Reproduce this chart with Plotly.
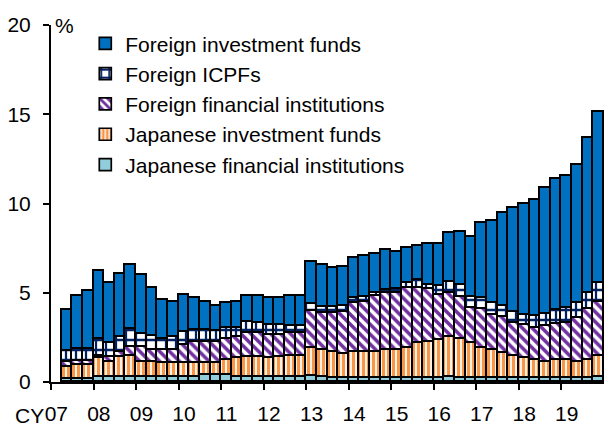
import plotly.graph_objects as go

# Quarterly observations, CY2007 Q2 .. CY2019 Q4 (share, %)
quarters = [f"{y}Q{q}" for y in range(2007, 2020) for q in range(1, 5)][1:]

jp_fin_inst = [0.15, 0.15, 0.15, 0.30, 0.30, 0.30, 0.30, 0.30, 0.30, 0.30, 0.30, 0.30,
               0.30, 0.39, 0.39, 0.39, 0.26, 0.26, 0.26, 0.26, 0.26, 0.26, 0.26, 0.34,
               0.26, 0.20, 0.20, 0.20, 0.20, 0.20, 0.20, 0.20, 0.20, 0.20, 0.20, 0.20,
               0.30, 0.20, 0.20, 0.20, 0.20, 0.20, 0.20, 0.20, 0.20, 0.25, 0.20, 0.20,
               0.20, 0.20, 0.30]
jp_inv_funds = [0.71, 0.80, 0.80, 1.03, 0.84, 1.12, 1.16, 0.84, 0.84, 0.75, 0.75, 0.75,
                0.78, 0.66, 0.66, 0.84, 1.07, 1.16, 1.16, 1.07, 1.16, 1.20, 1.20, 1.58,
                1.53, 1.50, 1.37, 1.50, 1.50, 1.50, 1.59, 1.59, 1.69, 1.97, 2.06, 2.15,
                2.20, 2.20, 1.97, 1.70, 1.59, 1.45, 1.24, 1.13, 1.03, 0.85, 1.03, 1.02,
                0.90, 1.05, 1.18]
fr_fin_inst = [0.28, 0.23, 0.23, 0.13, 0.28, 0.28, 0.52, 0.84, 0.65, 0.74, 0.74, 1.02,
               1.18, 1.21, 1.21, 1.16, 1.17, 1.31, 1.31, 1.30, 1.21, 1.27, 1.27, 2.06,
               2.06, 2.15, 2.37, 2.71, 2.80, 3.12, 3.18, 3.18, 3.36, 3.08, 2.93, 2.52,
               2.50, 2.35, 1.96, 2.18, 1.99, 2.01, 1.86, 1.86, 1.80, 2.02, 2.02, 2.08,
               2.50, 2.85, 3.02]
fr_icpfs = [0.60, 0.65, 0.67, 0.93, 0.75, 0.80, 0.99, 0.72, 0.76, 0.60, 0.71, 0.75,
            0.65, 0.65, 0.60, 0.61, 0.50, 0.65, 0.56, 0.56, 0.56, 0.41, 0.41, 0.39,
            0.37, 0.37, 0.32, 0.28, 0.28, 0.15, 0.18, 0.22, 0.28, 0.46, 0.26, 0.53,
            0.62, 0.68, 0.61, 0.64, 0.63, 0.58, 0.64, 0.59, 0.66, 0.68, 0.78, 0.85,
            0.81, 0.87, 1.03]
fr_inv_funds = [2.29, 3.00, 3.23, 3.85, 3.39, 3.53, 3.60, 3.31, 2.73, 2.20, 2.00, 2.04,
                1.81, 1.59, 1.40, 1.41, 1.50, 1.46, 1.55, 1.53, 1.53, 1.70, 1.70, 2.37,
                2.33, 2.15, 2.20, 2.24, 2.28, 2.18, 2.24, 2.07, 1.96, 1.93, 2.26, 2.31,
                2.75, 2.99, 3.36, 4.21, 4.63, 5.25, 5.79, 6.17, 6.51, 7.09, 7.32, 7.41,
                7.75, 8.68, 9.61]

year_labels = ["07", "08", "09", "10", "11", "12", "13", "14", "15", "16", "17", "18", "19"]

# position index: 2007Q1 slot is empty (index 0); data starts at index 1
x_pos = list(range(1, len(quarters) + 1))
label_pos = [4 * k for k in range(len(year_labels))]
tick_pos = [4 * k - 0.5 for k in range(len(year_labels))]

FONT = "Arial, Liberation Sans, sans-serif"
line = dict(color="black", width=1.7)

series = [
    ("Japanese financial institutions", jp_fin_inst,
     dict(color="#92CDDC", line=line)),
    ("Japanese investment funds", jp_inv_funds,
     dict(color="#F79646", line=line,
          pattern=dict(shape="|", fgcolor="#F79646", bgcolor="white",
                       size=5, solidity=0.65, fgopacity=1))),
    ("Foreign financial institutions", fr_fin_inst,
     dict(color="#7030A0", line=line,
          pattern=dict(shape="\\", fgcolor="#7030A0", bgcolor="white",
                       size=7, solidity=0.5, fgopacity=1))),
    ("Foreign ICPFs", fr_icpfs,
     dict(color="#002060", line=line,
          pattern=dict(shape="+", fgcolor="#002060", bgcolor="white",
                       size=10, solidity=0.4, fgopacity=1))),
    ("Foreign investment funds", fr_inv_funds,
     dict(color="#0070C0", line=line)),
]

fig = go.Figure()
for name, vals, marker in series:
    fig.add_trace(go.Bar(x=x_pos, y=vals, name=name, marker=marker, width=1.0))

fig.update_layout(
    width=604, height=428,
    margin=dict(l=51, r=0, t=25, b=46),
    barmode="stack", bargap=0,
    paper_bgcolor="white", plot_bgcolor="white",
    font=dict(family=FONT, size=21, color="black"),
    legend=dict(
        x=0.062, y=1.005, xanchor="left", yanchor="top",
        traceorder="reversed", bgcolor="rgba(0,0,0,0)",
        font=dict(family=FONT, size=21, color="black"),
    ),
    showlegend=True,
)

fig.update_xaxes(
    range=[-0.5, 51.5],
    tickmode="array", tickvals=label_pos, ticktext=year_labels,
    ticks="", ticklabelstandoff=12,
    showline=True, linecolor="black", linewidth=2,
    showgrid=False, zeroline=False,
    minor=dict(tickmode="array", tickvals=tick_pos, ticks="outside",
               ticklen=6, tickwidth=2, tickcolor="black", showgrid=False),
)
fig.update_yaxes(
    range=[0, 20],
    tickmode="array", tickvals=[0, 5, 10, 15, 20],
    ticks="outside", ticklen=6, tickwidth=2, tickcolor="black",
    ticklabelstandoff=8,
    showline=True, linecolor="black", linewidth=2,
    showgrid=False, zeroline=False,
)

fig.add_annotation(text="%", xref="paper", yref="paper", x=0.0, y=1.0,
                   xanchor="left", yanchor="bottom", xshift=2, yshift=-14,
                   showarrow=False, font=dict(family=FONT, size=21))
fig.add_annotation(text="CY", xref="paper", yref="paper", x=0.0, y=0.0,
                   xanchor="right", yanchor="top", xshift=-5, yshift=-20,
                   showarrow=False, font=dict(family=FONT, size=21))

fig.write_html("out.html", config={"displayModeBar": False},
               post_script="document.body.style.margin='0';document.body.style.padding='0';")
